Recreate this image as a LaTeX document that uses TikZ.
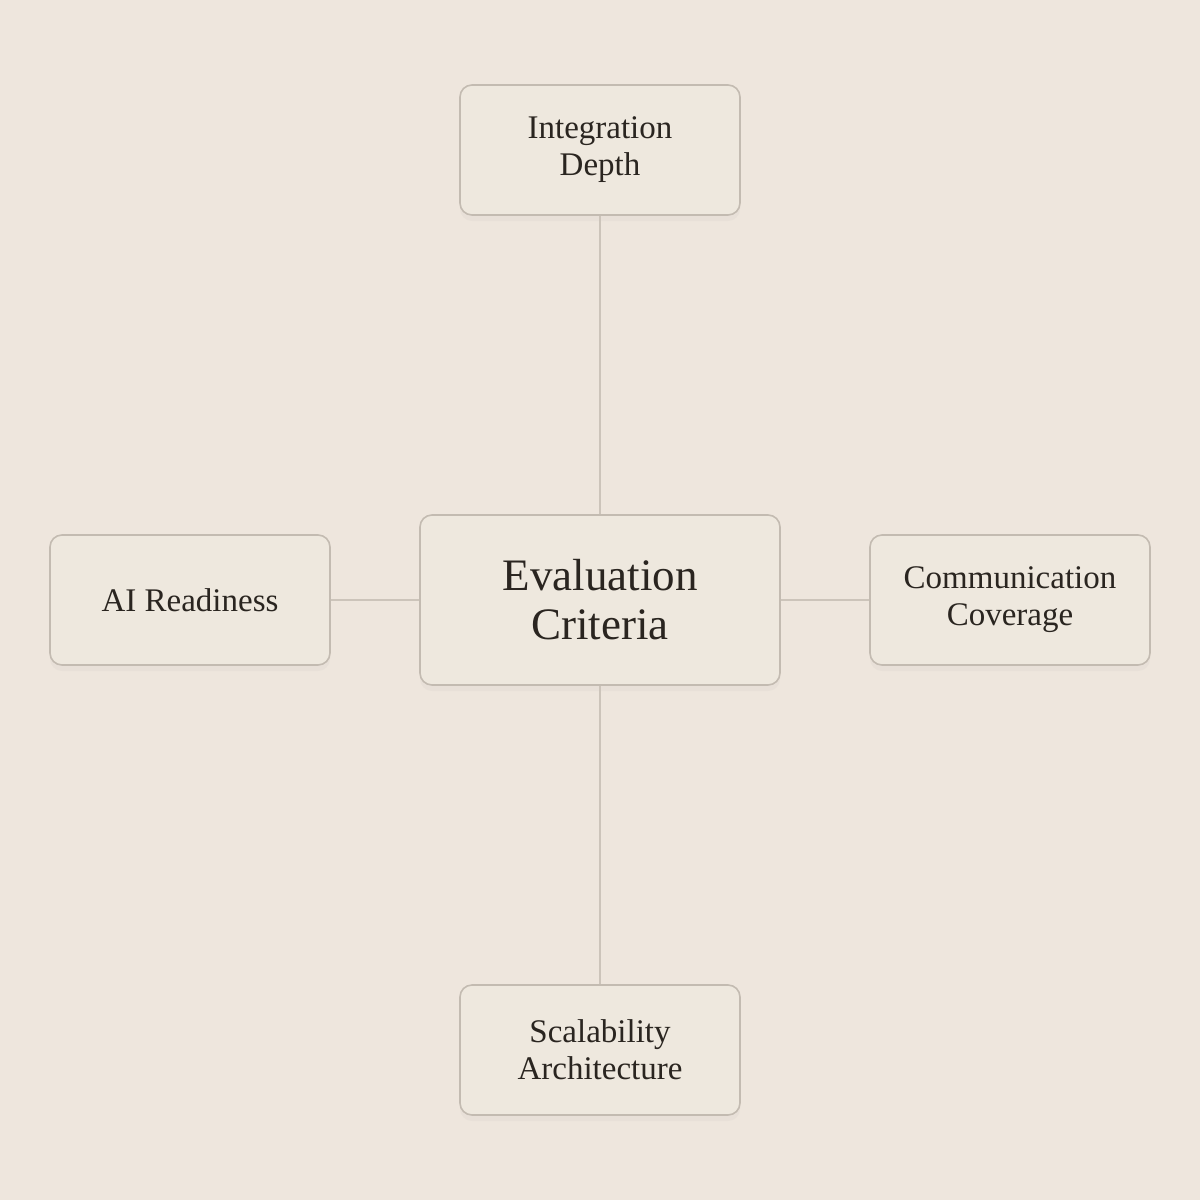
\documentclass[tikz,border=0pt]{standalone}
\usepackage{fontspec}
\setmainfont{Liberation Serif}
\usepackage{tikz}
\usetikzlibrary{positioning,shadows}
\definecolor{paper}{HTML}{EEE6DD}
\definecolor{boxfill}{HTML}{EEE8DE}
\definecolor{boxline}{HTML}{C3BBB1}
\definecolor{linkline}{HTML}{CCC4BA}
\definecolor{ink}{HTML}{2A2520}

\begin{document}
\begin{tikzpicture}[x=0.5pt,y=-0.5pt,
  crit/.style={draw=boxline,line width=0.8pt,rounded corners=6pt,fill=boxfill,text=ink,align=center,
    minimum width=140pt,minimum height=65pt,font=\fontsize{16.5}{18.5}\selectfont,
    drop shadow={opacity=0.05,shadow xshift=0pt,shadow yshift=-3pt}},
  hub/.style={crit,minimum width=180pt,minimum height=85pt,font=\fontsize{22.5}{24.5}\selectfont},
  link/.style={draw=linkline,line width=0.8pt}]
\fill[paper] (0,0) rectangle (1200,1200);
\useasboundingbox (0,0) rectangle (1200,1200);
% links first, boxes on top
\coordinate (c) at (600,600);
\node[hub] (eval) at (600,600) {Evaluation\\Criteria};
\node[crit] (depth) at (600,150) {Integration\\Depth};
\node[crit] (scale) at (600,1050) {Scalability\\Architecture};
\node[crit] (ai) at (190,600) {AI Readiness};
\node[crit] (comm) at (1010,600) {Communication\\Coverage};
\draw[link] (eval) -- (depth);
\draw[link] (eval) -- (scale);
\draw[link] (eval) -- (ai);
\draw[link] (eval) -- (comm);
\end{tikzpicture}
\end{document}
